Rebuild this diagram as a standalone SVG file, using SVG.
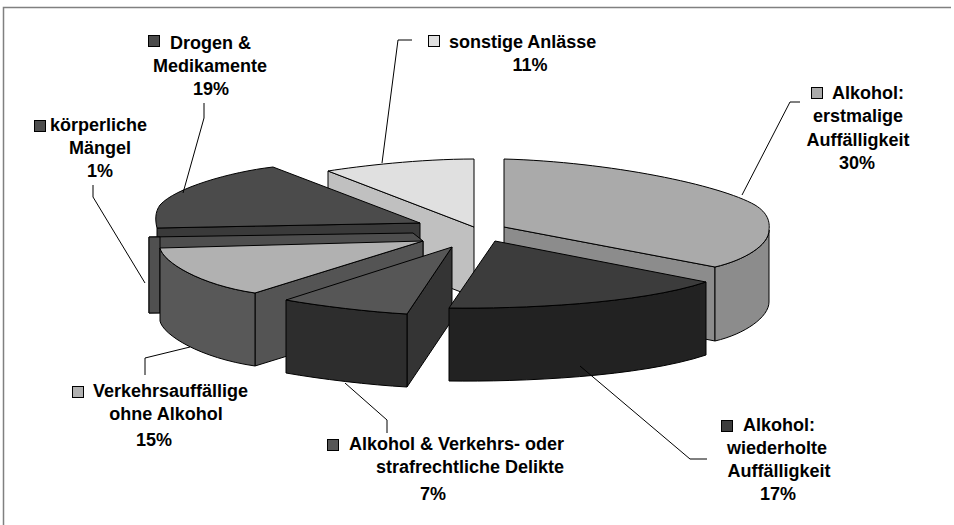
<svg xmlns="http://www.w3.org/2000/svg" width="954" height="525" viewBox="0 0 954 525">
<style>
.e{stroke:#000;stroke-width:1;stroke-linejoin:round}
.t{font-family:"Liberation Sans",Arial,sans-serif;font-weight:bold;font-size:18px;fill:#000}
.m{text-anchor:middle}
.k{stroke:#000;stroke-width:1}
.ld{fill:none;stroke:#000;stroke-width:1}
</style>
<rect width="954" height="525" fill="#fff"/>
<path d="M3.5,525 L3.5,7.5 L951,7.5" fill="none" stroke="#808080" stroke-width="1.5"/>

<g id="slice-sonstige">
<path class="e" fill="#c0c0c0" d="M328,171 L474,227 L474,297 L328,241 Z"/>
<path class="e" fill="#e0e0e0" d="M328,171 C360,166 420,159 474,159 L474,227 Z"/>
</g>
<g id="slice-erstmalig">
<path class="e" fill="#8c8c8c" d="M504,227 L715,267 L715,341 L504,300 Z"/>
<path class="e" fill="#8c8c8c" d="M769,230 C769,245 745,260 715,267 L715,341 C745,334 769,317 769,302 Z"/>
<path class="e" fill="#aaaaaa" d="M504,159 C610,162 720,185 755,205 C768,213 770,222 769,230 C769,245 745,260 715,267 L504,227 Z"/>
</g>
<g id="slice-drogen">
<path class="e" fill="#3a3a3a" d="M157,228 L420,223 L420,296 L157,301 Z"/>
<path class="e" fill="#4b4b4b" d="M273,167 C230,172 175,188 160,205 C155,212 155,220 157,228 L420,223 Z"/>
</g>
<g id="slice-koerperlich">
<path class="e" fill="#4e4e4e" d="M149,237 L413,233 L423,241 L423,306 L149,313 Z"/>
<rect class="e" fill="#505050" x="149" y="237" width="11" height="76"/>
</g>
<g id="slice-verkehrsauffaellige">
<path class="e" fill="#545454" d="M255,293 L423,241 L423,314 L255,366 Z"/>
<path class="e" fill="#585858" d="M160,248 C163,262 200,285 255,293 L255,366 C200,358 163,335 160,321 Z"/>
<path class="e" fill="#b1b1b1" d="M160,248 L423,241 L255,293 C200,285 163,262 160,248 Z"/>
</g>
<g id="slice-alk-verkehr">
<path class="e" fill="#343434" d="M407,314 L452,247 L452,320 L407,387 Z"/>
<path class="e" fill="#2d2d2d" d="M286,300 C320,306 370,312 407,314 L407,387 C370,385 320,379 286,373 Z"/>
<path class="e" fill="#565656" d="M452,247 L407,314 C370,312 320,306 286,300 Z"/>
</g>
<g id="slice-wiederholt">
<path class="e" fill="#222222" d="M706,282 C640,304 520,309 449,308 L449,381 C520,382 640,377 706,355 Z"/>
<path class="e" fill="#3c3c3c" d="M495,241 L706,282 C640,304 520,309 449,308 Z"/>
</g>

<g id="connectors">
<path class="ld" d="M412,40 L398,40 L382,163"/>
<path class="ld" d="M204,103 L204,118 L183,193"/>
<path class="ld" d="M93,185 L93,197 L145,283"/>
<path class="ld" d="M145,375 L145,358 L190,347"/>
<path class="ld" d="M387,433 L387,420 L345,383"/>
<path class="ld" d="M707,459 L690,459 L580,366"/>
<path class="ld" d="M742,195 L790,102 L800,102"/>
</g>

<g id="label-drogen">
<rect class="k" x="148.5" y="35.5" width="11" height="11" fill="#4b4b4b"/>
<text class="t" x="170" y="48.5">Drogen &amp;</text>
<text class="t m" x="210" y="72">Medikamente</text>
<text class="t m" x="211" y="95">19%</text>
</g>
<g id="label-sonstige">
<rect class="k" x="428.5" y="35.5" width="11" height="11" fill="#e0e0e0"/>
<text class="t" x="449" y="47.5">sonstige Anlässe</text>
<text class="t m" x="530" y="70.5">11%</text>
</g>
<g id="label-erstmalig">
<rect class="k" x="811.5" y="87.5" width="11" height="11" fill="#aaaaaa"/>
<text class="t" x="832" y="99">Alkohol:</text>
<text class="t m" x="858" y="122">erstmalige</text>
<text class="t m" x="858" y="146">Auffälligkeit</text>
<text class="t m" x="857" y="169">30%</text>
</g>
<g id="label-koerperlich">
<rect class="k" x="34.5" y="120.5" width="11" height="11" fill="#4e4e4e"/>
<text class="t" x="50" y="131">körperliche</text>
<text class="t m" x="100" y="154">Mängel</text>
<text class="t m" x="100" y="177">1%</text>
</g>
<g id="label-verkehrsauffaellige">
<rect class="k" x="72.5" y="386.5" width="11" height="11" fill="#b1b1b1"/>
<text class="t" x="93" y="397">Verkehrsauffällige</text>
<text class="t m" x="166" y="420">ohne Alkohol</text>
<text class="t m" x="154" y="446">15%</text>
</g>
<g id="label-alk-verkehr">
<rect class="k" x="327.5" y="439.5" width="11" height="11" fill="#565656"/>
<text class="t" x="349" y="450">Alkohol &amp; Verkehrs- oder</text>
<text class="t" x="376" y="473">strafrechtliche Delikte</text>
<text class="t m" x="433" y="500">7%</text>
</g>
<g id="label-wiederholt">
<rect class="k" x="721.5" y="420.5" width="11" height="11" fill="#3c3c3c"/>
<text class="t" x="743" y="431">Alkohol:</text>
<text class="t m" x="777" y="453.5">wiederholte</text>
<text class="t m" x="779" y="477">Auffälligkeit</text>
<text class="t m" x="778" y="500">17%</text>
</g>
</svg>
